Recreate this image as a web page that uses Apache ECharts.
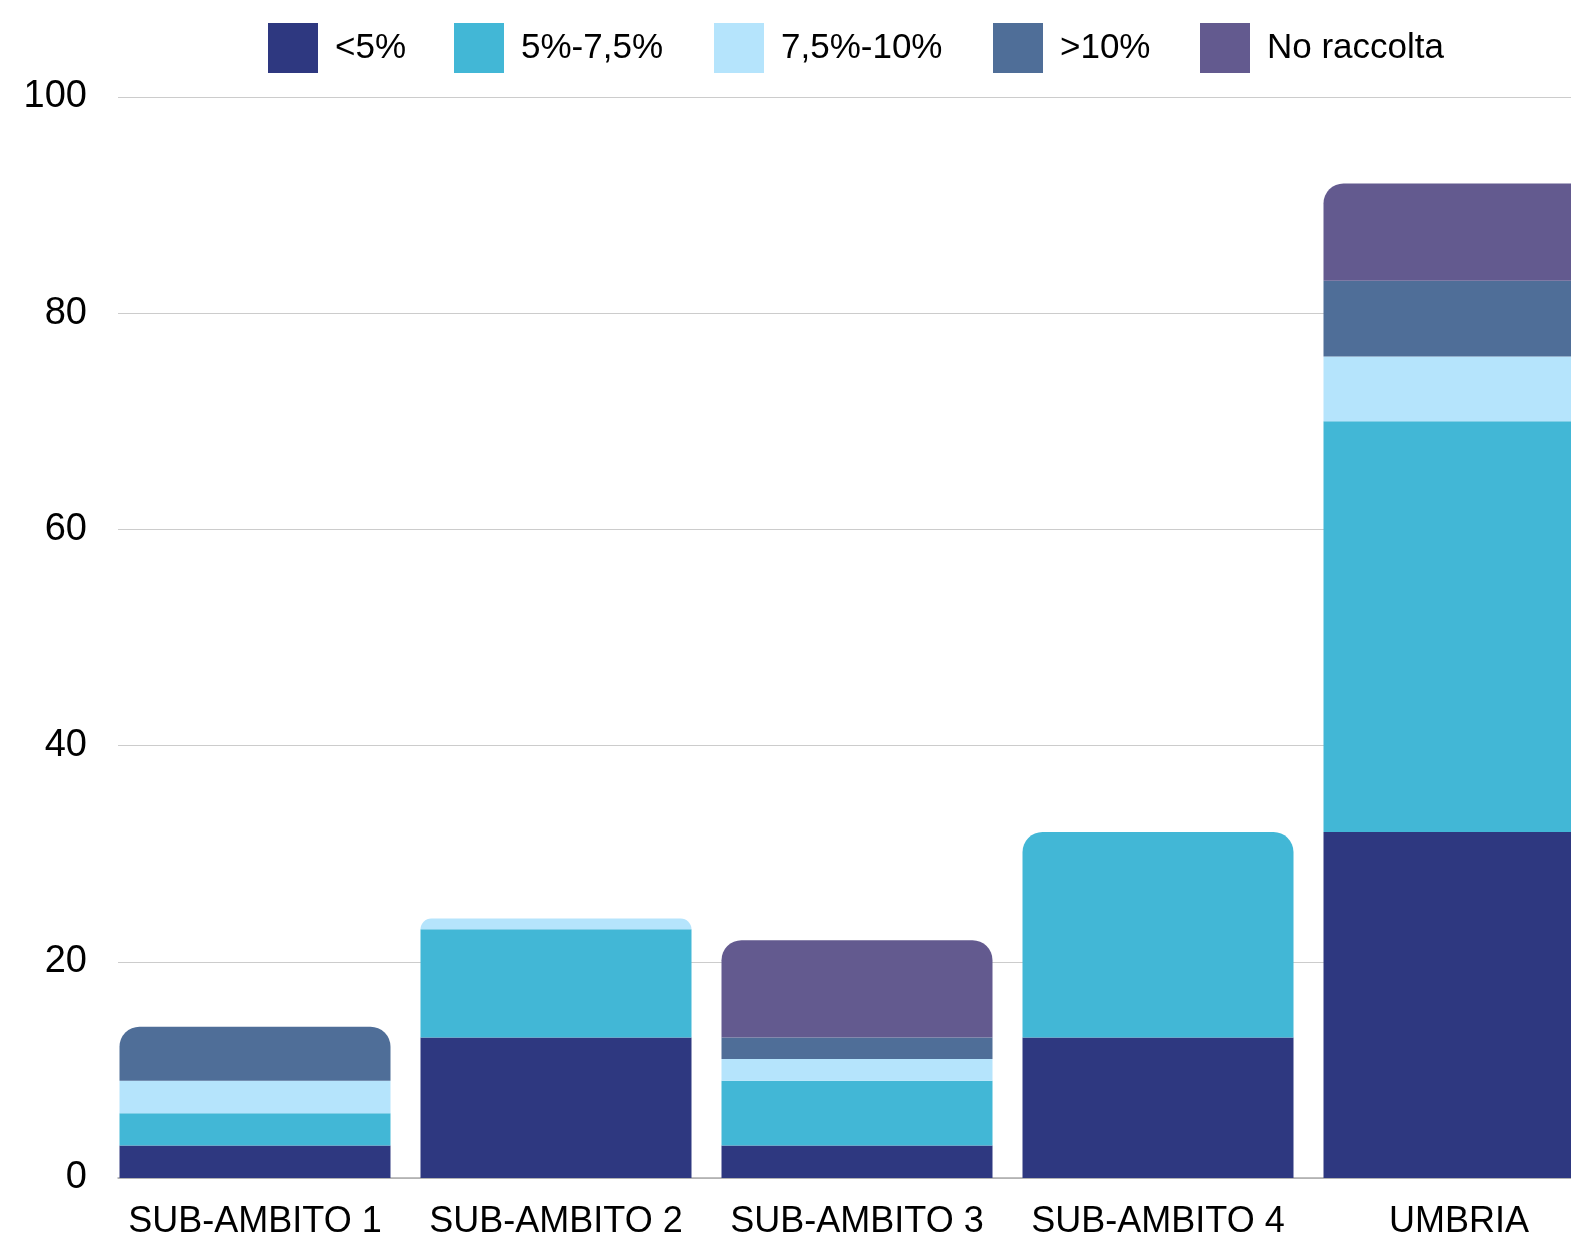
<!DOCTYPE html>
<html>
<head>
<meta charset="utf-8">
<script src="https://cdn.jsdelivr.net/npm/echarts@6/dist/echarts.min.js"></script>
<style>
  html, body { margin: 0; padding: 0; background: #fff; }
  #chart { width: 1571px; height: 1237px; }
</style>
</head>
<body>
<div id="chart"></div>
<script>
// categorie e valori
const categories = ['SUB-AMBITO 1', 'SUB-AMBITO 2', 'SUB-AMBITO 3', 'SUB-AMBITO 4', 'UMBRIA'];
const seriesNames = ['<5%', '5%-7,5%', '7,5%-10%', '>10%', 'No raccolta'];
const lt5 = [3, 13, 3, 13, 32];
const from5to75 = [3, 10, 6, 19, 38];
const from75to10 = [3, 1, 2, 0, 6];
const gt10 = [5, 0, 2, 0, 7];
const noRaccolta = [0, 0, 9, 0, 9];
const yTicks = [0, 20, 40, 60, 80, 100];

const colors = ['#2e3880', '#42b7d6', '#b5e4fc', '#4f6e98', '#635a8f'];
const legendLeft = [263, 449, 709, 988, 1195];
const FONT = "'Liberation Sans Narrow', 'Liberation Sans', sans-serif";

const allData = [lt5, from5to75, from75to10, gt10, noRaccolta];

// l'ultimo segmento non nullo di ogni colonna ha gli angoli arrotondati
const topIndex = categories.map((c, i) => {
    let top = 0;
    allData.forEach((arr, s) => { if (arr[i] > 0) top = s; });
    return top;
});

const chart = echarts.init(document.getElementById('chart'));

const option = {
    animation: false,
    backgroundColor: '#fff',
    // una legenda per voce, così ogni quadratino sta al suo posto
    legend: seriesNames.map((name, s) => ({
        top: 18,
        left: legendLeft[s],
        itemWidth: 50,
        itemHeight: 50,
        icon: 'rect',
        data: [name],
        textStyle: {
            fontFamily: FONT,
            fontSize: 35,
            color: '#000',
            padding: [0, 0, 0, 12]
        }
    })),
    grid: [
        // griglia per le linee orizzontali e le etichette
        { left: 118, width: 1491.5, top: 97, bottom: 59, outerBoundsMode: 'none' },
        // griglia per le colonne (esce oltre il bordo destro come nell'originale)
        { left: 104.5, width: 1505, top: 97, bottom: 59, outerBoundsMode: 'none' }
    ],
    xAxis: [
        {
            gridIndex: 0, type: 'value', min: 0, max: 1,
            axisLine: { show: true, lineStyle: { color: '#aaaaaa', width: 1.5 } },
            axisTick: { show: false }, axisLabel: { show: false }, splitLine: { show: false }
        },
        {
            gridIndex: 1, type: 'category', data: categories,
            axisLine: { show: false }, axisTick: { show: false },
            axisLabel: { interval: 0, fontFamily: FONT, fontSize: 36, color: '#000', margin: 26 }
        }
    ],
    yAxis: [
        {
            gridIndex: 0, type: 'value', min: yTicks[0], max: yTicks[yTicks.length - 1], interval: 20,
            axisLine: { show: false }, axisTick: { show: false },
            axisLabel: { fontFamily: FONT, fontSize: 38, color: '#000', margin: 31 },
            splitLine: { lineStyle: { color: '#cccccc', width: 1.2 } }
        },
        {
            gridIndex: 1, type: 'value', min: 0, max: 100, interval: 20,
            show: false, splitLine: { show: false }
        }
    ],
    series: allData.map((arr, s) => ({
        name: seriesNames[s],
        type: 'bar',
        stack: 'tot',
        xAxisIndex: 1,
        yAxisIndex: 1,
        barWidth: 271,
        itemStyle: { color: colors[s] },
        data: arr.map((v, i) => ({
            value: v,
            itemStyle: topIndex[i] === s ? { borderRadius: [20, 20, 0, 0] } : {}
        }))
    }))
};

chart.setOption(option);
</script>
</body>
</html>
